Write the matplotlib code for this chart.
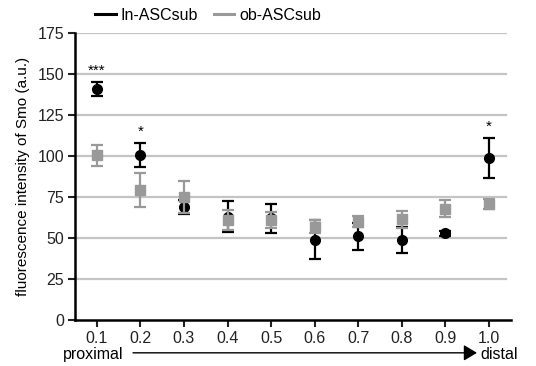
import numpy as np
import matplotlib
matplotlib.use("Agg")
import matplotlib.pyplot as plt

# ---------- data ----------
positions = [0.1, 0.2, 0.3, 0.4, 0.5, 0.6, 0.7, 0.8, 0.9, 1.0]
in_mean = [141, 101, 69, 63, 62, 49, 51, 49, 53, 99]
in_err = [4.3, 7.4, 4, 9.5, 9, 12, 8, 8, 1.5, 12.3]
ob_mean = [100.5, 79.6, 75, 61, 61, 57, 60, 61.5, 68, 71]
ob_err = [6.4, 10.3, 9.6, 6, 5, 3.8, 3.5, 5.3, 5, 3.2]
stars = {0.1: "***", 0.2: "*", 1.0: "*"}
yticks = [0, 25, 50, 75, 100, 125, 150, 175]

BLACK = "#000000"
GREY = "#999999"
GRID = "#c4c4c4"

plt.rcParams["font.family"] = ["Liberation Sans", "DejaVu Sans"]

fig = plt.figure(figsize=(5.36, 3.66), dpi=100)
ax = fig.add_axes([0.14, 0.1257, 0.813, 0.7828])

for yv in yticks[1:]:
    ax.axhline(yv, xmin=0, xmax=0.99, color=GRID, linewidth=1.6, zorder=0)

ax.errorbar(positions, in_mean, yerr=in_err, fmt="o", color=BLACK, ms=7,
            capsize=4.3, elinewidth=1.6, capthick=1.6, zorder=2, label="In-ASCsub")
ax.errorbar(positions, ob_mean, yerr=ob_err, fmt="s", color=GREY, ms=7,
            capsize=4.3, elinewidth=1.6, capthick=1.6, zorder=3, label="ob-ASCsub")

for i, x in enumerate(positions):
    if x in stars:
        ax.text(x, in_mean[i] + in_err[i] + 2.5, stars[x], ha="center", va="bottom",
                fontsize=11)

ax.set_xlim(0.05, 1.05)
ax.set_ylim(0, 175)
ax.set_xticks(positions)
ax.set_xticklabels([f"{p:.1f}" for p in positions])
ax.set_yticks(yticks)
ax.tick_params(axis="both", direction="out", length=5, width=1.5, labelsize=11.5,
               colors="#222222")
ax.tick_params(axis="x", pad=3)
ax.tick_params(axis="y", pad=3)
for s in ["top", "right"]:
    ax.spines[s].set_visible(False)
for s in ["left", "bottom"]:
    ax.spines[s].set_linewidth(1.8)
ax.set_ylabel("fluorescence intensity of Smo (a.u.)", fontsize=11, labelpad=5)

handles = [plt.Line2D([], [], color=BLACK, lw=2.2),
           plt.Line2D([], [], color=GREY, lw=2.2)]
fig.legend(handles, ["In-ASCsub", "ob-ASCsub"], loc="center left",
           bbox_to_anchor=(0.15, 0.958), ncol=2, frameon=False, fontsize=11.5,
           handlelength=1.3, handletextpad=0.3, columnspacing=1.0)

# proximal -> distal arrow
fig.text(0.117, 0.031, "proximal", ha="left", va="center", fontsize=11.5)
fig.text(0.897, 0.031, "distal", ha="left", va="center", fontsize=11.5)
fig.add_artist(matplotlib.patches.FancyArrowPatch(
    (0.243, 0.036), (0.895, 0.036), transform=fig.transFigure,
    arrowstyle="-|>,head_length=5,head_width=3", color=BLACK, lw=1, mutation_scale=1.6))

fig.savefig("out.png", dpi=100)
